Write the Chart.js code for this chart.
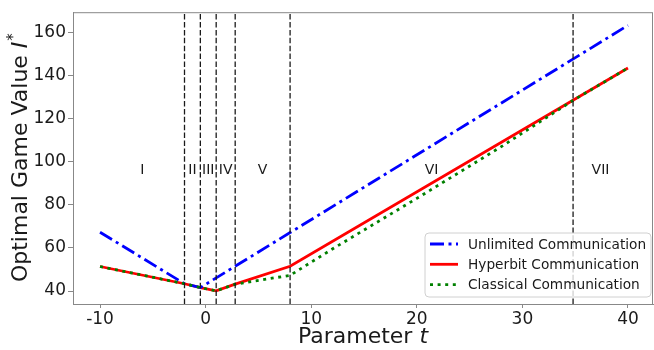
<!DOCTYPE html>
<html>
<head>
<meta charset="utf-8">
<script src="https://cdn.jsdelivr.net/npm/chart.js@4.4.1/dist/chart.umd.min.js"></script>
<style>
  html, body { margin: 0; padding: 0; background: #fff; }
  #wrap { width: 654px; height: 350px; }
</style>
</head>
<body>
<div id="wrap"><canvas id="game-chart" width="654" height="350"></canvas></div>
<script>
// values
var unlimitedT = [-10, -2, -0.5, 40];
var unlimitedV = [67.3, 43.4, 41.6, 163.3];
var hyperbitT = [-10, -2, -0.5, 1, 2.8, 8, 40];
var hyperbitV = [51.4, 43.4, 41.6, 40.1, 43.2, 51.5, 143.5];
var classicalT = [-10, -2, -0.5, 1, 2.8, 8, 12, 20, 28, 34.8, 40];
var classicalV = [51.4, 43.4, 41.6, 40.1, 43.2, 47.3, 59.5, 83, 107, 128.5, 143.5];
var boundaries = [-2, -0.5, 1, 2.8, 8, 34.8];
var regionNames = ['I', 'II', 'III', 'IV', 'V', 'VI', 'VII'];
var regionLabelY = 96;
var xTicks = [-10, 0, 10, 20, 30, 40];
var yTicks = [40, 60, 80, 100, 120, 140, 160];
var xRange = [-12.56, 42.37];
var yRange = [34, 169.4];

var FONT = "'DejaVu Sans', 'Liberation Sans', sans-serif";

function pts(xs, ys){
    return xs.map(function(x, i){ return { x: x, y: ys[i] }; });
}

var datasets = [
    {
        label: 'Unlimited Communication',
        data: pts(unlimitedT, unlimitedV),
        borderColor: '#0000ff',
        borderWidth: 2.8,
        borderDash: [14, 4.5, 3, 4.5],
        order: 1
    },
    {
        label: 'Hyperbit Communication',
        data: pts(hyperbitT, hyperbitV),
        borderColor: '#ff0000',
        borderWidth: 2.8,
        order: 2
    },
    {
        label: 'Classical Communication',
        data: pts(classicalT, classicalV),
        borderColor: '#008000',
        borderWidth: 2.8,
        borderDash: [3, 4.6],
        order: 0
    }
];
boundaries.forEach(function(b){
    datasets.push({
        label: '_boundary',
        data: [{ x: b, y: yRange[0] }, { x: b, y: yRange[1] }],
        borderColor: '#1a1a1a',
        borderWidth: 1.3,
        borderDash: [5.5, 2.4],
        order: -1
    });
});

// region numerals, legend, axis titles and frame
var overlay = {
    id: 'overlay',
    afterDatasetsDraw: function(chart){
        var c = chart.ctx, a = chart.chartArea;
        var xs = chart.scales.x, ys = chart.scales.y;
        c.save();

        // region labels at midpoints of each interval
        var edges = [xTicks[0]].concat(boundaries, [xTicks[xTicks.length - 1]]);
        c.fillStyle = '#1a1a1a';
        c.font = '14px ' + FONT;
        c.textAlign = 'center';
        c.textBaseline = 'middle';
        regionNames.forEach(function(n, i){
            var mid = (edges[i] + edges[i + 1]) / 2;
            c.fillText(n, xs.getPixelForValue(mid), ys.getPixelForValue(regionLabelY));
        });

        // legend box
        var lx = 425, ly = 233, lw = 226, lh = 64;
        c.beginPath();
        c.roundRect(lx, ly, lw, lh, 4);
        c.fillStyle = 'rgba(255,255,255,0.8)';
        c.fill();
        c.strokeStyle = '#d0d0d0';
        c.lineWidth = 1;
        c.stroke();
        c.font = '13.7px ' + FONT;
        c.textAlign = 'left';
        datasets.slice(0, 3).forEach(function(ds, i){
            var y = 244 + i * 20.3;
            c.beginPath();
            c.setLineDash(ds.borderDash || []);
            c.strokeStyle = ds.borderColor;
            c.lineWidth = ds.borderWidth;
            c.moveTo(430, y);
            c.lineTo(458, y);
            c.stroke();
            c.setLineDash([]);
            c.fillStyle = '#1a1a1a';
            c.fillText(ds.label, 468, y + 1);
        });

        // frame
        c.strokeStyle = '#888';
        c.lineWidth = 1;
        c.strokeRect(a.left + 0.5, a.top + 0.5, a.right - a.left - 1, a.bottom - a.top);

        // x title: Parameter t
        c.fillStyle = '#1a1a1a';
        c.textBaseline = 'alphabetic';
        var f1 = '22px ' + FONT, f2 = 'italic 22px ' + FONT;
        c.font = f1;
        var w1 = c.measureText('Parameter ').width;
        c.font = f2;
        var w2 = c.measureText('t').width;
        var sx = (a.left + a.right) / 2 - (w1 + w2) / 2;
        c.font = f1;
        c.fillText('Parameter ', sx, 343);
        c.font = f2;
        c.fillText('t', sx + w1, 343);

        // y title: Optimal Game Value I*
        c.translate(27, (a.top + a.bottom) / 2);
        c.rotate(-Math.PI / 2);
        c.font = f1;
        var t1 = c.measureText('Optimal Game Value ').width;
        c.font = f2;
        var t2 = c.measureText('I').width;
        c.font = '15px ' + FONT;
        var t3 = c.measureText('*').width;
        var st = -(t1 + t2 + t3) / 2;
        c.font = f1;
        c.fillText('Optimal Game Value ', st, 0);
        c.font = f2;
        c.fillText('I', st + t1, 0);
        c.font = '15px ' + FONT;
        c.fillText('*', st + t1 + t2 + 1, -9);
        c.restore();
    }
};

new Chart(document.getElementById('game-chart'), {
    type: 'line',
    data: { datasets: datasets },
    options: {
        responsive: false,
        animation: false,
        layout: { padding: { top: 5, right: 1, left: 0, bottom: 0 } },
        elements: { point: { radius: 0 }, line: { tension: 0, borderCapStyle: 'butt' } },
        plugins: { legend: { display: false }, tooltip: { enabled: false } },
        scales: {
            x: {
                type: 'linear',
                min: xRange[0],
                max: xRange[1],
                afterBuildTicks: function(s){ s.ticks = xTicks.map(function(v){ return { value: v }; }); },
                afterFit: function(s){ s.height = 46; },
                grid: { drawOnChartArea: false, tickLength: 4, color: '#888' },
                border: { color: '#888' },
                ticks: { font: { family: FONT, size: 17 }, color: '#1a1a1a', padding: 1, maxRotation: 0 }
            },
            y: {
                min: yRange[0],
                max: yRange[1],
                afterBuildTicks: function(s){ s.ticks = yTicks.map(function(v){ return { value: v }; }); },
                afterFit: function(s){ s.width = 73; },
                grid: { drawOnChartArea: false, tickLength: 5, color: '#888' },
                border: { color: '#888' },
                ticks: { font: { family: FONT, size: 17 }, color: '#1a1a1a', padding: 2 }
            }
        }
    },
    plugins: [overlay]
});
</script>
</body>
</html>
